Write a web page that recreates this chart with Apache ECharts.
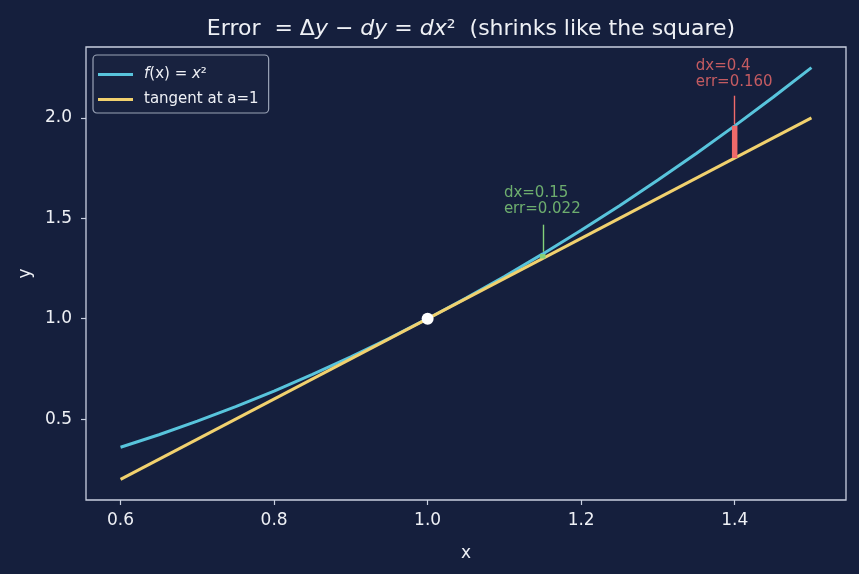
<!DOCTYPE html>
<html>
<head>
<meta charset="utf-8">
<script src="https://cdn.jsdelivr.net/npm/echarts@6/dist/echarts.min.js"></script>
<style>
html,body{margin:0;padding:0;background:#151f3d;}
#c{width:859px;height:574px;}
</style>
</head>
<body>
<div id="c"></div>
<script>
const curveX = [0.60,0.65,0.70,0.75,0.80,0.85,0.90,0.95,1.00,1.05,1.10,1.15,1.20,1.25,1.30,1.35,1.40,1.45,1.50];
const curveY = [0.3600,0.4225,0.4900,0.5625,0.6400,0.7225,0.8100,0.9025,1.0000,1.1025,1.2100,1.3225,1.4400,1.5625,1.6900,1.8225,1.9600,2.1025,2.2500];
const tangentX = [0.6, 1.5];
const tangentY = [0.2, 2.0];
const errX = [1.15, 1.4];
const errLow = [1.3, 1.8];
const errHigh = [1.3225, 1.96];
const annotLabels = ['dx=0.15\nerr=0.022', 'dx=0.4\nerr=0.160'];
const annotX = [1.10, 1.35];
const annotY = [1.50, 2.132];
const arrowStartY = [1.468, 2.11];
const arrowEndY = [1.333, 1.968];
const anchorPoint = [1.0, 1.0];
const xTicks = [0.6, 0.8, 1.0, 1.2, 1.4];
const yTicks = [0.5, 1.0, 1.5, 2.0];
const seriesNames = ['f(x) = x²', 'tangent at a=1'];

const BG = '#151f3d';
const FG = '#eef0f5';
const FRAME = '#c9d0e0';
const CYAN = '#58c4dc';
const YELLOW = '#f1d16e';
const GREEN = '#83d17a';
const RED = '#f06a6a';
const FONT = 'DejaVu Sans';
const errColors = [GREEN, RED];

const chart = echarts.init(document.getElementById('c'), null, {renderer: 'canvas'});

const zip = (xs, ys) => xs.map((x, i) => [x, ys[i]]);

const series = [
  {
    name: seriesNames[0], type: 'line', data: zip(curveX, curveY),
    symbol: 'none', lineStyle: {color: CYAN, width: 3}, itemStyle: {color: CYAN}, z: 2, silent: true
  },
  {
    name: seriesNames[1], type: 'line', data: zip(tangentX, tangentY),
    symbol: 'none', lineStyle: {color: YELLOW, width: 3}, itemStyle: {color: YELLOW}, z: 3, silent: true
  }
];
errX.forEach((x, i) => {
  series.push({
    type: 'line', data: [[x, errLow[i]], [x, errHigh[i]]], symbol: 'none',
    lineStyle: {color: errColors[i], width: 5.5, cap: 'butt'}, z: 4, silent: true,
    markLine: {
      silent: true, symbol: ['none', 'arrow'], symbolSize: [0, 8],
      label: {show: false},
      lineStyle: {color: errColors[i], width: 1.4, type: 'solid'},
      data: [[{coord: [x, arrowStartY[i]]}, {coord: [x, arrowEndY[i]]}]],
      animation: false
    }
  });
});
series.push({
  type: 'scatter', data: [anchorPoint], symbolSize: 12,
  itemStyle: {color: '#ffffff', opacity: 1}, z: 6, silent: true
});
series.push({
  type: 'scatter', symbolSize: 1, z: 7, silent: true,
  itemStyle: {color: 'transparent'},
  data: annotX.map((x, i) => ({
    value: [x, annotY[i]],
    label: {
      show: true, formatter: annotLabels[i], color: errColors[i],
      position: [0, 0], align: 'left', verticalAlign: 'bottom',
      fontFamily: FONT, fontSize: 15, lineHeight: 16.5
    }
  }))
});

const axisCommon = {
  type: 'value',
  splitLine: {show: false},
  axisLine: {show: false},
  axisTick: {show: true, inside: false, length: 5, lineStyle: {color: FRAME, width: 1.2}},
  nameTextStyle: {color: FG, fontFamily: FONT, fontSize: 17},
  nameLocation: 'middle'
};

chart.setOption({
  backgroundColor: BG,
  animation: false,
  title: {
    text: 'Error  = Δ{i|y} − {i|dy} = {i|dx}²  (shrinks like the square)',
    left: 466, top: 13, textAlign: 'center',
    textStyle: {
      color: FG, fontFamily: FONT, fontSize: 22, fontWeight: 'normal',
      rich: {i: {fontStyle: 'italic', color: FG, fontFamily: FONT, fontSize: 22}}
    }
  },
  grid: {
    left: 86, right: 13, top: 47, bottom: 74,
    show: true, borderColor: FRAME, borderWidth: 1.3, backgroundColor: BG
  },
  legend: {
    orient: 'vertical', left: 93, top: 55,
    data: seriesNames.map(n => ({name: n, icon: 'rect'})),
    itemWidth: 35, itemHeight: 3, itemGap: 8,
    padding: [11, 10, 5, 5],
    borderColor: '#9aa3b6', borderWidth: 1.2, borderRadius: 4,
    backgroundColor: '#18223f',
    formatter: name => name === seriesNames[0] ? '{i|f}{n|(x) = }{i|x}{n|²}' : name,
    textStyle: {
      color: FG, fontFamily: FONT, fontSize: 15, lineHeight: 17, padding: [0, 0, 0, 6],
      rich: {
        i: {fontStyle: 'italic', color: FG, fontFamily: FONT, fontSize: 15, lineHeight: 17},
        n: {color: FG, fontFamily: FONT, fontSize: 15, lineHeight: 17}
      }
    },
    selectedMode: false
  },
  xAxis: Object.assign({}, axisCommon, {
    min: 0.555, max: 1.545,
    name: 'x', nameGap: 45,
    axisTick: Object.assign({}, axisCommon.axisTick, {customValues: xTicks}),
    axisLabel: {customValues: xTicks, color: FG, fontFamily: FONT, fontSize: 17, margin: 12,
      formatter: v => v.toFixed(1)}
  }),
  yAxis: Object.assign({}, axisCommon, {
    min: 0.0975, max: 2.3525,
    name: 'y', nameGap: 52,
    axisTick: Object.assign({}, axisCommon.axisTick, {customValues: yTicks}),
    axisLabel: {customValues: yTicks, color: FG, fontFamily: FONT, fontSize: 17, margin: 14,
      formatter: v => v.toFixed(1)}
  }),
  series: series
});
</script>
</body>
</html>
